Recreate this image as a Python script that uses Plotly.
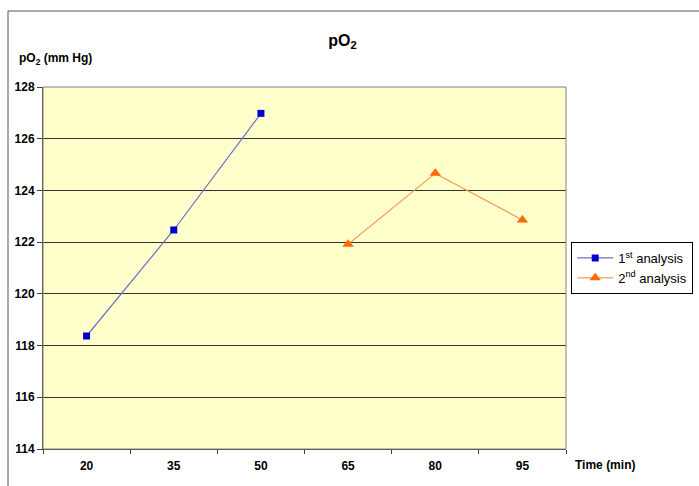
import plotly.graph_objects as go

categories = ["20", "35", "50", "65", "80", "95"]
x_first = ["20", "35", "50"]
y_first = [118.37, 122.47, 126.98]
x_second = ["65", "80", "95"]
y_second = [121.92, 124.66, 122.86]
y_ticks = [114, 116, 118, 120, 122, 124, 126, 128]

FONT = "Liberation Sans, Arial, sans-serif"

fig = go.Figure()
fig.add_trace(go.Scatter(
    x=x_first, y=y_first, mode="lines+markers",
    name="1<sup>st</sup> analysis",
    line=dict(color="#6e6ec8", width=1.2),
    marker=dict(symbol="square", size=7, color="#0000cc"),
))
fig.add_trace(go.Scatter(
    x=x_second, y=y_second, mode="lines+markers",
    name="2<sup>nd</sup> analysis",
    line=dict(color="#f0a050", width=1.2),
    marker=dict(symbol="triangle-up", size=10, color="#ff6a00"),
))

fig.update_layout(
    width=699, height=486,
    margin=dict(l=43, r=133, t=87, b=37, autoexpand=False),
    paper_bgcolor="white",
    plot_bgcolor="#ffffcc",
    font=dict(family=FONT, size=12, color="black"),
    title=dict(text="<b>pO<sub>2</sub></b>", x=0.49, xanchor="center",
               y=1 - 40 / 486, yanchor="middle", font=dict(size=16, family=FONT)),
    showlegend=True,
    legend=dict(
        x=1.01, xanchor="left", y=0.5, yanchor="middle",
        bordercolor="black", borderwidth=1, bgcolor="white",
        font=dict(size=13, family=FONT), tracegroupgap=0,
        itemwidth=36,
    ),
    xaxis=dict(
        type="category", categoryorder="array", categoryarray=categories,
        range=[-0.5, 5.5], tickson="boundaries",
        ticks="outside", ticklen=4, tickcolor="#404040",
        ticklabelstandoff=6,
        tickvals=categories, ticktext=[f"<b>{c}</b>" for c in categories],
        showgrid=False, showline=True, linecolor="#404040", linewidth=1,
        tickfont=dict(size=12, family=FONT),
        zeroline=False,
    ),
    yaxis=dict(
        range=[114, 128], tickvals=y_ticks,
        ticktext=[f"<b>{v}</b>" for v in y_ticks],
        ticks="outside", ticklen=5, tickcolor="#404040",
        showgrid=True, gridcolor="#333333", gridwidth=1,
        showline=True, linecolor="#404040", linewidth=1,
        tickfont=dict(size=12, family=FONT), zeroline=False,
    ),
)

# Plot area border (gray) and outer chart border
fig.add_shape(type="rect", xref="paper", yref="paper", x0=0, y0=0, x1=1, y1=1,
              line=dict(color="#808080", width=1), layer="above")
fig.add_shape(type="rect", xref="paper", yref="paper",
              x0=(8 - 43) / 523, y0=-1, x1=2, y1=1 + (87 - 11) / 362,
              line=dict(color="#555555", width=1), layer="below")

fig.add_annotation(text="<b>pO<sub>2</sub> (mm Hg)</b>", xref="paper", yref="paper",
                   x=(17 - 43) / 523, xanchor="left", y=1 + (87 - 59) / 362, yanchor="middle",
                   showarrow=False, font=dict(size=12, family=FONT))
fig.add_annotation(text="<b>Time (min)</b>", xref="paper", yref="paper",
                   x=(573 - 43) / 523, xanchor="left", y=-(465 - 449) / 362, yanchor="middle",
                   showarrow=False, font=dict(size=12, family=FONT))

fig.write_html("out.html")
